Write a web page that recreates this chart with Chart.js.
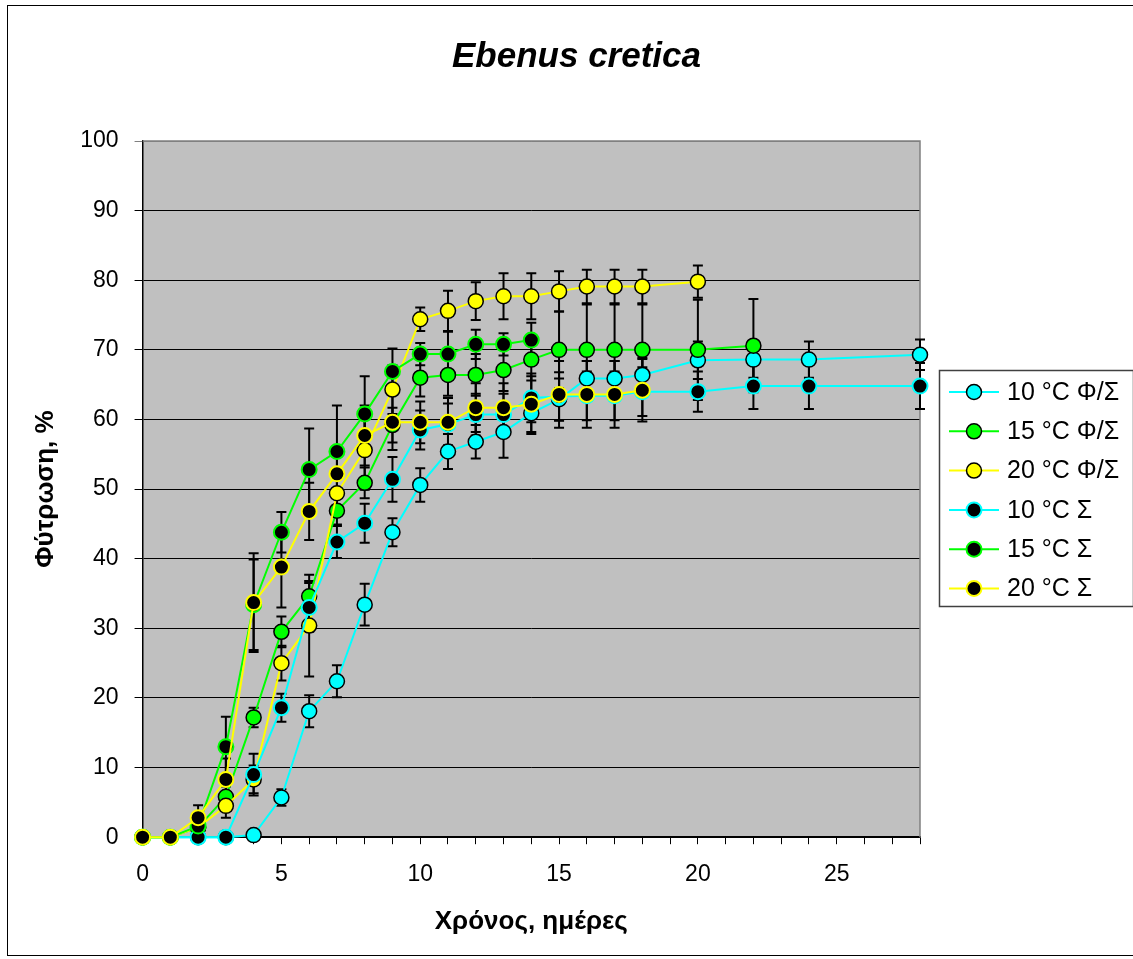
<!DOCTYPE html>
<html>
<head>
<meta charset="utf-8">
<title>Ebenus cretica</title>
<script src="https://cdn.jsdelivr.net/npm/chart.js@4.4.1/dist/chart.umd.min.js"></script>
<style>
  body { margin: 0; background: #fff; }
  canvas { display: block; }
</style>
</head>
<body>
<canvas id="germChart" width="1133" height="959"></canvas>
<script>
const FONT = 'Arial, "Liberation Sans", sans-serif';

// days of observation
const days18 = [0, 1, 2, 3, 4, 5, 6, 7, 8, 9, 10, 11, 12, 13, 14, 15, 16, 17, 18];
const days14 = days18.slice(0, 15);
const days20 = [...days18, 20];
const days22 = [...days18, 20, 22];
const days28 = [...days18, 20, 22, 24, 28];

const seriesLabels = ['10 °C Φ/Σ', '15 °C Φ/Σ', '20 °C Φ/Σ', '10 °C Σ', '15 °C Σ', '20 °C Σ'];
const seriesColors = ['#00FFFF', '#00FF00', '#FFFF00', '#00FFFF', '#00FF00', '#FFFF00'];

// germination %, and error (±)
const g10FS = [0, 0, 0, 0, 0.3, 5.7, 18.1, 22.4, 33.4, 43.8, 50.6, 55.4, 56.8, 58.2, 60.9, 62.9, 65.9, 65.9, 66.4, 68.5, 68.6, 68.6, 69.3];
const e10FS = [0, 0, 0, 0, 0, 1.2, 2.3, 2.3, 3.0, 2.0, 2.4, 2.5, 2.4, 3.7, 3.0, 3.0, 2.5, 2.5, 2.5, 2.7, 2.6, 2.6, 2.2];

const g15FS = [0, 0, 1.4, 5.8, 17.2, 29.5, 34.6, 46.9, 50.9, 59.2, 66.0, 66.4, 66.4, 67.1, 68.6, 70.0, 70.0, 70.0, 70.0, 70.0, 70.6];
const e15FS = [0, 0, 0.8, 1.5, 1.4, 2.2, 2.2, 2.0, 2.2, 2.5, 2.7, 3.0, 3.0, 3.0, 3.0, 5.5, 6.5, 6.5, 6.5, 7.2, 6.7];

const g20FS = [0, 0, 1.4, 4.5, 8.3, 25.0, 30.4, 49.4, 55.6, 64.3, 74.4, 75.6, 77.0, 77.7, 77.7, 78.4, 79.1, 79.1, 79.1, 79.8];
const e20FS = [0, 0, 0.8, 1.7, 2.0, 2.5, 7.3, 3.0, 5.7, 3.5, 1.7, 2.9, 2.7, 3.3, 3.3, 2.9, 2.4, 2.4, 2.4, 2.3];

const g10S = [0, 0, 0, 0, 9.0, 18.6, 33.0, 42.4, 45.1, 51.4, 58.5, 59.3, 60.7, 60.7, 63.1, 63.3, 63.4, 63.4, 64.0, 64.0, 64.8, 64.8, 64.8];
const e10S = [0, 0, 0, 0, 3.0, 2.0, 3.5, 2.3, 2.8, 3.2, 2.8, 3.0, 3.0, 3.0, 3.5, 3.5, 3.5, 3.5, 3.5, 2.9, 3.3, 3.3, 3.3];

const g15S = [0, 0, 1.6, 13.0, 33.4, 43.8, 52.8, 55.4, 60.8, 66.9, 69.4, 69.4, 70.8, 70.8, 71.4];
const e15S = [0, 0, 1.0, 4.3, 6.5, 2.9, 5.9, 6.6, 5.4, 3.3, 1.6, 3.2, 2.1, 1.6, 2.5];

const g20S = [0, 0, 2.8, 8.3, 33.7, 38.8, 46.8, 52.2, 57.7, 59.6, 59.6, 59.6, 61.7, 61.7, 62.2, 63.6, 63.6, 63.6, 64.2];
const e20S = [0, 0, 1.8, 3.0, 7.1, 5.8, 4.1, 3.0, 4.3, 4.0, 3.0, 3.5, 3.5, 3.5, 4.0, 4.8, 4.8, 4.8, 4.5];

const seriesDays = [days28, days22, days20, days28, days14, days18];
const seriesValues = [g10FS, g15FS, g20FS, g10S, g15S, g20S];
const seriesErrors = [e10FS, e15FS, e20FS, e10S, e15S, e20S];

function toPoints(xs, ys) {
    return xs.map((x, i) => ({ x: x, y: ys[i] }));
}

const datasets = seriesLabels.map((label, i) => {
    const filled = i < 3; // Φ/Σ: coloured marker, Σ: black marker
    return {
        label: label,
        data: toPoints(seriesDays[i], seriesValues[i]),
        errors: seriesErrors[i],
        borderColor: seriesColors[i],
        borderWidth: 2,
        pointBackgroundColor: filled ? seriesColors[i] : '#000',
        pointBorderColor: filled ? '#000' : seriesColors[i],
        pointBorderWidth: filled ? 1.5 : 2,
        pointRadius: 7.5,
        tension: 0,
        clip: false,
        order: 6 - i
    };
});

// grey plot area, outer frame
const backgroundPlugin = {
    id: 'background',
    beforeDraw(chart) {
        const { ctx, chartArea: a } = chart;
        ctx.save();
        ctx.fillStyle = '#fff';
        ctx.fillRect(0, 0, chart.width, chart.height);
        ctx.fillStyle = '#C0C0C0';
        ctx.fillRect(a.left, a.top, a.right - a.left, a.bottom - a.top);
        ctx.restore();
    },
    afterDraw(chart) {
        const ctx = chart.ctx;
        ctx.save();
        ctx.strokeStyle = '#000';
        ctx.lineWidth = 1;
        ctx.strokeRect(7.5, 5.5, 1130, 950);
        ctx.restore();
    }
};

// vertical error bars
const errorBarsPlugin = {
    id: 'errorBars',
    beforeDatasetsDraw(chart) {
        const { ctx, chartArea: a, scales: { x, y } } = chart;
        ctx.save();
        // plot border top / right
        ctx.strokeStyle = '#808080';
        ctx.lineWidth = 1.5;
        ctx.beginPath();
        ctx.moveTo(a.left, a.top);
        ctx.lineTo(a.right, a.top);
        ctx.lineTo(a.right, a.bottom);
        ctx.stroke();

        ctx.strokeStyle = '#000';
        ctx.lineWidth = 2;
        chart.data.datasets.forEach(ds => {
            ds.data.forEach((p, i) => {
                const e = ds.errors[i];
                if (!e) return;
                const px = x.getPixelForValue(p.x);
                const top = y.getPixelForValue(p.y + e);
                const bot = y.getPixelForValue(p.y - e);
                ctx.beginPath();
                ctx.moveTo(px, top); ctx.lineTo(px, bot);
                ctx.moveTo(px - 5, top); ctx.lineTo(px + 5, top);
                ctx.moveTo(px - 5, bot); ctx.lineTo(px + 5, bot);
                ctx.stroke();
            });
        });
        ctx.restore();
    }
};

// boxed legend on the right, line + marker per series
const legendBoxPlugin = {
    id: 'legendBox',
    afterDraw(chart) {
        const ctx = chart.ctx;
        const boxLeft = 939.5, boxTop = 370.5, boxW = 194, boxH = 236;
        const rowStart = 392, rowStep = 39.3;
        ctx.save();
        ctx.strokeStyle = '#404040';
        ctx.lineWidth = 1.5;
        ctx.strokeRect(boxLeft, boxTop, boxW, boxH);
        ctx.font = '25px ' + FONT;
        ctx.textBaseline = 'middle';
        ctx.textAlign = 'left';
        chart.data.datasets.forEach((ds, i) => {
            const yy = rowStart + i * rowStep;
            ctx.strokeStyle = ds.borderColor;
            ctx.lineWidth = 2;
            ctx.beginPath();
            ctx.moveTo(949, yy);
            ctx.lineTo(999, yy);
            ctx.stroke();
            ctx.beginPath();
            ctx.arc(974, yy, 7.5, 0, Math.PI * 2);
            ctx.fillStyle = ds.pointBackgroundColor;
            ctx.fill();
            ctx.lineWidth = ds.pointBorderWidth;
            ctx.strokeStyle = ds.pointBorderColor;
            ctx.stroke();
            ctx.fillStyle = '#000';
            ctx.fillText(ds.label, 1007, yy + 1);
        });
        ctx.restore();
    }
};

const ctx = document.getElementById('germChart').getContext('2d');
const germChart = new Chart(ctx, {
    type: 'line',
    data: { datasets: datasets },
    plugins: [backgroundPlugin, errorBarsPlugin, legendBoxPlugin],
    options: {
        responsive: false,
        animation: false,
        events: [],
        layout: { padding: { left: 20, right: 0, top: 0, bottom: 10 } },
        plugins: {
            legend: { display: false },
            tooltip: { enabled: false },
            title: {
                display: true,
                text: 'Ebenus cretica',
                color: '#000',
                font: { family: FONT, size: 35, weight: 'bold', style: 'italic' },
                padding: { top: 36, bottom: 63 }
            }
        },
        scales: {
            x: {
                type: 'linear',
                min: 0,
                max: 28,
                border: { color: '#000', width: 1.5 },
                grid: { drawOnChartArea: false, color: '#000', tickLength: 7 },
                ticks: {
                    stepSize: 1,
                    autoSkip: false,
                    maxRotation: 0,
                    padding: 17,
                    color: '#000',
                    font: { family: FONT, size: 23 },
                    callback: v => (v % 5 === 0 ? v : '')
                },
                title: {
                    display: true,
                    text: 'Χρόνος, ημέρες',
                    color: '#000',
                    font: { family: FONT, size: 26, weight: 'bold' },
                    padding: { top: 0, bottom: 12 }
                }
            },
            y: {
                min: 0,
                max: 100,
                border: { color: '#000', width: 1.5 },
                grid: {
                    color: c => (c.tick && c.tick.value === 100 ? '#808080' : '#000'),
                    lineWidth: 1,
                    tickLength: 8
                },
                ticks: {
                    stepSize: 10,
                    padding: 16,
                    color: '#000',
                    font: { family: FONT, size: 23 }
                },
                title: {
                    display: true,
                    text: 'Φύτρωση, %',
                    color: '#000',
                    font: { family: FONT, size: 26, weight: 'bold' },
                    padding: { top: 10, bottom: 3 }
                }
            },
            // empty right axis that keeps room for the legend box
            yLegend: {
                position: 'right',
                min: 0,
                max: 100,
                grid: { display: false },
                border: { display: false },
                ticks: { display: false },
                afterFit: scale => { scale.width = 213; }
            }
        }
    }
});
</script>
</body>
</html>
